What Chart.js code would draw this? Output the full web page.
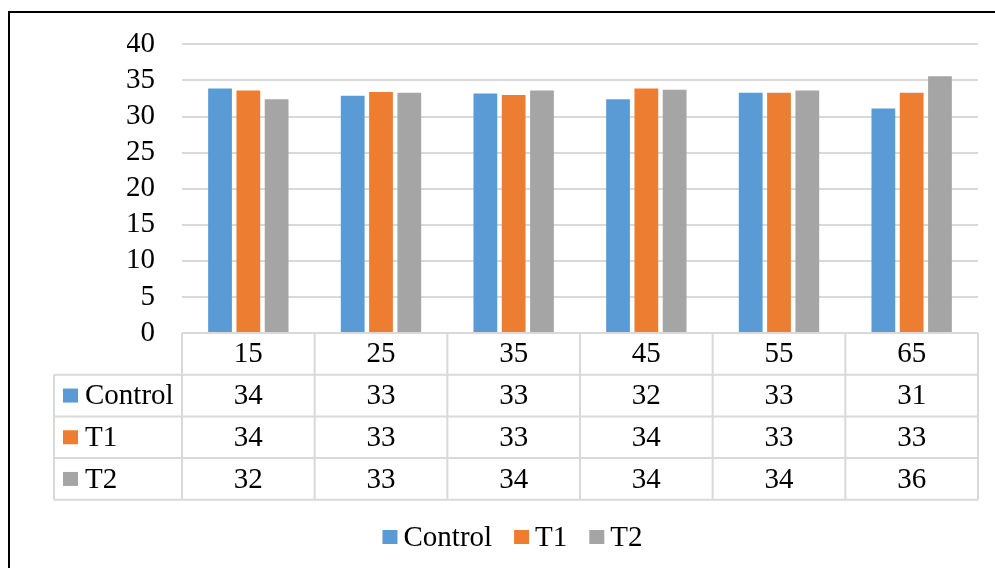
<!DOCTYPE html>
<html>
<head>
<meta charset="utf-8">
<script src="https://cdn.jsdelivr.net/npm/chart.js@4/dist/chart.umd.min.js"></script>
<style>
    html, body { margin: 0; padding: 0; background: #fff; overflow: hidden; }
    .frame { position: absolute; left: 8px; top: 11px; width: 1100px; height: 700px;
        border-top: 2px solid #000; border-left: 2px solid #000; }
    .box { position: absolute; left: 0; top: 0; width: 995px; height: 568px; }
</style>
</head>
<body>
<div class="frame"></div>
<div class="box"><canvas id="tempChart"></canvas></div>
<script>
const categories = ['15', '25', '35', '45', '55', '65'];
const controlValues = [33.9, 32.9, 33.2, 32.4, 33.3, 31.1];
const t1Values = [33.6, 33.4, 33.0, 33.9, 33.3, 33.3];
const t2Values = [32.4, 33.3, 33.6, 33.7, 33.6, 35.6];
const yTicks = [0, 5, 10, 15, 20, 25, 30, 35, 40];

const seriesNames = ['Control', 'T1', 'T2'];
const seriesColors = ['#5B9BD5', '#ED7D31', '#A5A5A5'];
const seriesValues = [controlValues, t1Values, t2Values];

const fontFamily = '"Liberation Serif", "Times New Roman", serif';
const fontSize = 29;
const lineColor = '#d9d9d9';

// data table under the plot + legend, drawn from the same arrays
const tablePlugin = {
    id: 'dataTable',
    afterDraw(chart) {
        const ctx = chart.ctx;
        const area = chart.chartArea;
        const xs = chart.scales.x;
        const rowH = 41.7;
        const colW = xs.width / categories.length;
        const top = area.bottom;
        const bottom = top + rowH * 4;
        const leftCol = area.left - 128;

        ctx.save();
        ctx.strokeStyle = lineColor;
        ctx.lineWidth = 2;
        ctx.beginPath();
        ctx.moveTo(area.left, top);
        ctx.lineTo(area.right, top);
        for (let i = 1; i <= 4; i++) {
            ctx.moveTo(leftCol, top + rowH * i);
            ctx.lineTo(area.right, top + rowH * i);
        }
        for (let j = 0; j <= categories.length; j++) {
            const x = area.left + colW * j;
            ctx.moveTo(x, top);
            ctx.lineTo(x, bottom);
        }
        ctx.moveTo(leftCol, top + rowH);
        ctx.lineTo(leftCol, bottom);
        ctx.stroke();

        ctx.fillStyle = '#000';
        ctx.font = fontSize + 'px ' + fontFamily;
        ctx.textBaseline = 'middle';
        ctx.textAlign = 'center';
        categories.forEach((c, j) => {
            const cx = xs.getPixelForValue(j);
            ctx.fillText(c, cx, top + rowH / 2 + 1);
            seriesValues.forEach((vals, i) => {
                ctx.fillText(String(Math.round(vals[j])), cx, top + rowH * (i + 1.5) + 1);
            });
        });
        ctx.textAlign = 'left';
        seriesNames.forEach((name, i) => {
            const cy = top + rowH * (i + 1.5);
            ctx.fillStyle = seriesColors[i];
            ctx.fillRect(leftCol + 9, cy - 7, 15, 14);
            ctx.fillStyle = '#000';
            ctx.fillText(name, leftCol + 31, cy + 1);
        });

        // legend
        const widths = seriesNames.map(n => 15 + 6 + ctx.measureText(n).width);
        const total = widths.reduce((a, b) => a + b, 0) + 22 * (seriesNames.length - 1);
        let lx = chart.width / 2 + 15 - total / 2;
        const ly = 537;
        seriesNames.forEach((name, i) => {
            ctx.fillStyle = seriesColors[i];
            ctx.fillRect(lx, ly - 7, 15, 14);
            ctx.fillStyle = '#000';
            ctx.fillText(name, lx + 21, ly + 1);
            lx += widths[i] + 22;
        });
        ctx.restore();
    }
};

const ctxEl = document.querySelector('#tempChart');
new Chart(ctxEl, {
    type: 'bar',
    data: {
        labels: categories,
        datasets: seriesNames.map((name, i) => ({
            label: name,
            data: seriesValues[i],
            backgroundColor: seriesColors[i],
            borderWidth: 0,
            barPercentage: 0.84,
            categoryPercentage: 0.64,
        }))
    },
    options: {
        responsive: true,
        maintainAspectRatio: false,
        animation: false,
        layout: {
            padding: { left: 127, right: 17, top: 39, bottom: 235 }
        },
        plugins: {
            legend: { display: false },
            tooltip: { enabled: false },
        },
        scales: {
            x: {
                display: false,
            },
            y: {
                min: 0,
                max: 40,
                afterBuildTicks(scale) {
                    scale.ticks = yTicks.map(v => ({ value: v }));
                },
                afterFit(scale) {
                    scale.width = 55;
                },
                grid: { color: lineColor, lineWidth: 2, drawTicks: false },
                border: { display: false },
                ticks: {
                    autoSkip: false,
                    padding: 27,
                    color: '#000',
                    font: { family: fontFamily, size: fontSize }
                }
            }
        }
    },
    plugins: [tablePlugin]
});
</script>
</body>
</html>
